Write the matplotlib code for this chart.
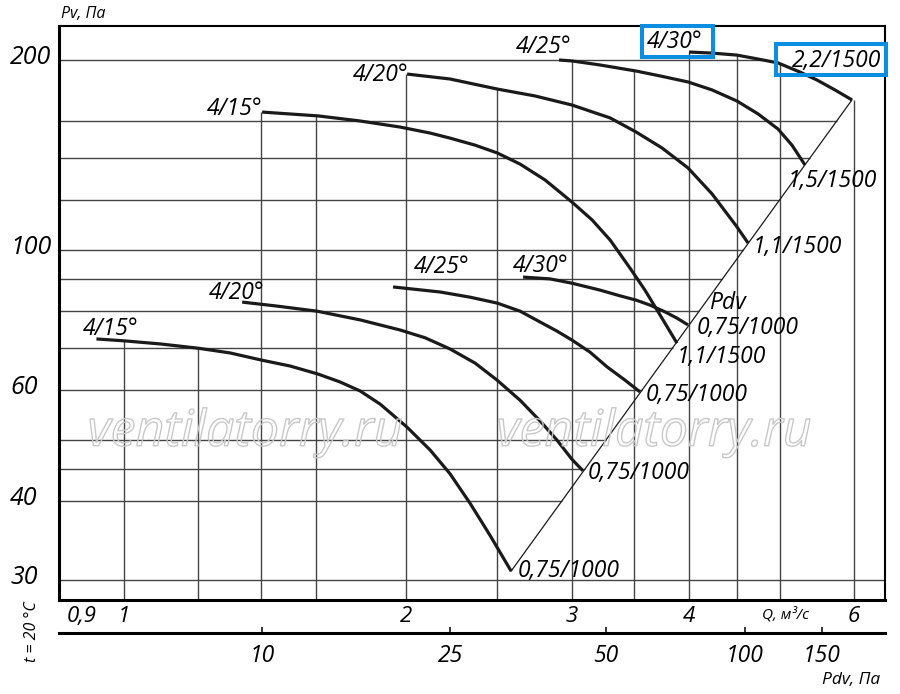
# -*- coding: utf-8 -*-
# Аэродинамическая характеристика вентилятора (Pv от Q, лог. шкалы)
import numpy as np
import matplotlib.pyplot as plt
from matplotlib import patheffects, transforms
from matplotlib.patches import Rectangle
from matplotlib.ticker import NullLocator

plt.rcParams['font.family'] = ['Open Sans', 'DejaVu Sans']
plt.rcParams['font.style'] = 'italic'

# ---- данные: Q, м3/с и Pv, Па ----
# 1000 об/мин, 0,75 кВт
q_15_1000 = [0.934, 1.0, 1.092, 1.199, 1.297, 1.403, 1.503, 1.61, 1.699, 1.785, 1.875,
             2.003, 2.12, 2.226, 2.338, 2.456, 2.586]
pv_15_1000 = [72.3, 71.8, 71.0, 69.9, 68.7, 66.9, 65.5, 63.6, 61.8, 59.8, 57.0,
              52.4, 48.2, 44.2, 39.7, 35.3, 31.0]
q_20_1000 = [1.336, 1.456, 1.606, 1.785, 1.969, 2.094, 2.226, 2.367, 2.499, 2.644,
             2.777, 2.894, 3.003, 3.085]
pv_20_1000 = [82.7, 81.5, 80.0, 77.5, 74.7, 72.6, 69.7, 66.2, 62.2, 57.8,
              53.6, 50.0, 46.6, 44.7]
q_25_1000 = [1.935, 2.173, 2.338, 2.499, 2.644, 2.777, 2.894, 3.003, 3.139, 3.273, 3.421, 3.549]
pv_25_1000 = [87.4, 85.8, 84.2, 82.4, 80.0, 76.9, 74.4, 72.0, 68.9, 65.3, 62.2, 59.6]
q_30_1000 = [2.663, 2.846, 3.003, 3.217, 3.38, 3.515, 3.637, 3.774, 3.886, 3.993]
pv_30_1000 = [90.6, 90.0, 88.6, 86.4, 84.6, 83.3, 81.8, 79.8, 78.0, 76.1]
# 1500 об/мин
q_15_1500 = [1.403, 1.61, 1.785, 1.969, 2.12, 2.226, 2.367, 2.499, 2.644, 2.811, 3.003,
             3.155, 3.298, 3.463, 3.592, 3.728, 3.886]
pv_15_1500 = [165.4, 163.1, 160.1, 156.6, 153.2, 150.4, 146.6, 142.5, 136.8, 129.1, 119.1,
              111.6, 103.7, 93.6, 86.4, 78.9, 71.2]
q_20_1500 = [2.003, 2.226, 2.499, 2.743, 3.003, 3.298, 3.515, 3.746, 3.993, 4.236, 4.503, 4.627]
pv_20_1500 = [190.0, 186.6, 179.9, 175.4, 169.7, 161.9, 153.8, 145.1, 134.9, 122.7, 108.8, 102.6]
q_25_1500 = [2.909, 3.003, 3.217, 3.515, 3.728, 3.993, 4.236, 4.503, 4.742, 4.98, 5.154, 5.321]
pv_25_1500 = [200.0, 199.3, 196.4, 192.1, 188.7, 184.6, 179.3, 172.2, 164.3, 155.5, 146.6, 136.4]
q_30_1500 = [4.003, 4.236, 4.503, 4.742, 4.98, 5.256, 5.481, 5.728, 5.972]
pv_30_1500 = [205.9, 205.1, 203.6, 200.7, 197.9, 191.4, 185.9, 179.3, 172.9]

# линия Pdv (концы кривых)
pdv_q = [2.586, 5.972]
pdv_p = [31.0, 172.9]

angle_labels = ['4/15°', '4/20°', '4/25°', '4/30°', '4/15°', '4/20°', '4/25°', '4/30°']
end_labels = ['0,75/1000', '0,75/1000', '0,75/1000', '0,75/1000',
              '1,1/1500', '1,1/1500', '1,5/1500', '2,2/1500']

# сетка и подписи осей
grid_q = [1, 1.2, 1.4, 1.6, 2, 2.5, 3, 3.5, 4, 4.5, 5, 6]
grid_p = [30, 40, 45, 50, 60, 70, 80, 90, 100, 120, 140, 160, 200]
q_ticks = [0.9, 1, 2, 3, 4, 6]
q_tick_labels = ['0,9', '1', '2', '3', '4', '6']
p_ticks = [200, 100, 60, 40, 30]
pdv_tick_labels = ['10', '25', '50', '100', '150']
pdv_tick_q = [1.403, 2.226, 3.265, 4.592, 5.548]

curves = [(q_15_1000, pv_15_1000), (q_20_1000, pv_20_1000),
          (q_25_1000, pv_25_1000), (q_30_1000, pv_30_1000),
          (q_15_1500, pv_15_1500), (q_20_1500, pv_20_1500),
          (q_25_1500, pv_25_1500), (q_30_1500, pv_30_1500)]

xmin, xmax = 0.852, 6.477
ymin, ymax = 27.9, 226.4

fig = plt.figure(figsize=(9, 6.94), dpi=100)
ax = fig.add_axes([59/900, 1 - 600/694, 826/900, 574/694])
ax.set_xscale('log')
ax.set_yscale('log')
ax.set_xlim(xmin, xmax)
ax.set_ylim(ymin, ymax)


def top_at(q):
    # верхняя огибающая кривых при данном Q
    best = None
    for qs, ps in curves:
        if qs[0] * 0.99 <= q <= qs[-1] * 1.01:
            p = 10 ** np.interp(np.log10(q), np.log10(qs), np.log10(ps))
            best = p if best is None else max(best, p)
    return best


k = np.log10(pdv_p[1] / pdv_p[0]) / np.log10(pdv_q[1] / pdv_q[0])


def right_at(p):
    # горизонтали обрываются на линии Pdv (или на верхней кривой)
    if p < pdv_p[0]:
        return xmax
    if p <= pdv_p[1]:
        return pdv_q[0] * (p / pdv_p[0]) ** (1 / k)
    qs, ps = q_30_1500, pv_30_1500
    return 10 ** np.interp(np.log10(p), np.log10(ps[::-1]), np.log10(qs[::-1]))


gc = '#444444'
ax.vlines(grid_q, ymin, [top_at(q) for q in grid_q], color=gc, lw=1.0, zorder=1)
ax.hlines(grid_p, xmin, [right_at(p) for p in grid_p], color=gc, lw=1.0, zorder=1)

# водяной знак
for xc in [245, 654]:
    fig.text(xc/900, 1 - 433/694, 'ventilatorry.ru', fontsize=36, ha='center', va='center',
             color=(1, 1, 1, 0), zorder=2,
             path_effects=[patheffects.Stroke(linewidth=1.0, foreground='#c8c8c8')])

for qs, ps in curves:
    ax.plot(qs, ps, color='#1a1a1a', lw=2.3, solid_capstyle='butt', zorder=3)
ax.plot(pdv_q, pdv_p, color='#1a1a1a', lw=0.9, zorder=3)

# подписи кривых (смещения в пикселях)
start_off = [(-14, 4), (-33, 3), (21, 14), (-10, 5), (-55, -3), (-54, -7), (-43, 7), (-42, 4)]
end_off = [(7, -6), (5, -8), (6, -9), (9, -9), (0, -20), (5, -10), (-17, -22), (-60, 33)]
for (qs, ps), lab, off in zip(curves, angle_labels, start_off):
    ax.annotate(lab, (qs[0], ps[0]), xytext=off, textcoords='offset pixels',
                fontsize=16.5, ha='left', va='baseline', zorder=4)
for (qs, ps), lab, off in zip(curves, end_labels, end_off):
    ax.annotate(lab, (qs[-1], ps[-1]), xytext=off, textcoords='offset pixels',
                fontsize=16.5, ha='left', va='baseline', zorder=4)
ax.annotate('Pdv', (q_30_1000[-1], pv_30_1000[-1]), xytext=(21, 16), textcoords='offset pixels',
            fontsize=16.5, ha='left', va='baseline', zorder=4)

# оси
for s in ['left', 'bottom']:
    ax.spines[s].set_linewidth(2.2)
for s in ['top', 'right']:
    ax.spines[s].set_linewidth(1.5)
ax.xaxis.set_minor_locator(NullLocator())
ax.yaxis.set_minor_locator(NullLocator())
ax.set_xticks(q_ticks, q_tick_labels)
ax.tick_params(axis='x', length=0, pad=4.5, labelsize=16)
ax.set_yticks([])
ytr = transforms.offset_copy(ax.get_yaxis_transform(), fig=fig, x=0, y=-4, units='dots')
for p in p_ticks:
    ax.text(-49/826, p, str(p), transform=ytr, fontsize=18, ha='left', va='baseline')

# шкала Pdv
ax2 = fig.add_axes([59/900, 1 - 633/694, 826/900, 1e-4])
ax2.set_xscale('log')
ax2.set_xlim(xmin, xmax)
ax2.patch.set_visible(False)
for s in ['top', 'left', 'right']:
    ax2.spines[s].set_visible(False)
ax2.spines['bottom'].set_linewidth(2.2)
ax2.set_yticks([])
ax2.xaxis.set_minor_locator(NullLocator())
ax2.set_xticks(pdv_tick_q, pdv_tick_labels)
ax2.tick_params(axis='x', direction='in', length=4, width=1.1, pad=8, labelsize=16.5)

fig.text(83/900, 1 - 14/694, 'Pv, Па', fontsize=11.5, ha='center', va='center')
fig.text(786/900, 1 - 615/694, 'Q, м³/с', fontsize=11, ha='center', va='center')
fig.text(851/900, 1 - 680/694, 'Pdv, Па', fontsize=12.5, ha='center', va='center')
fig.text(32/900, 1 - 632/694, 't = 20 °C', fontsize=11.5, ha='center', va='center', rotation=90)

# выделенные подписи
for x0, y0, w, h in [(642, 26, 71, 31), (776, 44, 110, 31)]:
    fig.add_artist(Rectangle((x0/900, 1 - (y0 + h)/694), w/900, h/694, fill=False,
                             ec='#0b8de0', lw=2.9, transform=fig.transFigure, zorder=5))

fig.savefig('out.png', dpi=100)
